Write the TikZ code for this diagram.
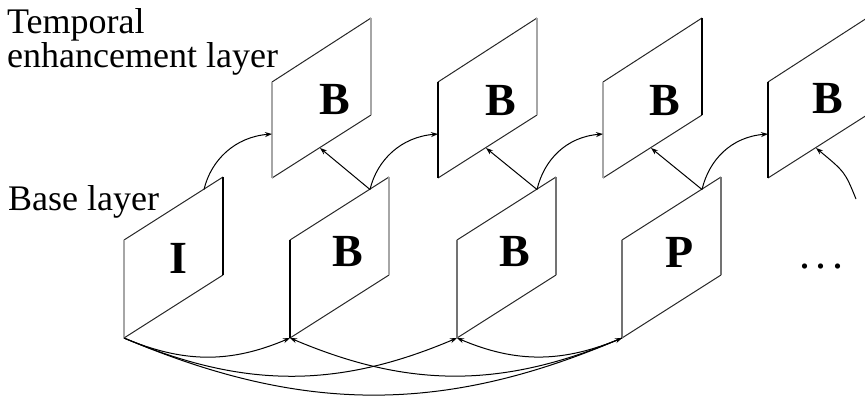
\documentclass[tikz,border=0pt]{standalone}
\usepackage{fontspec}
\setmainfont{Liberation Serif}
\usetikzlibrary{arrows.meta}
\begin{document}
\begin{tikzpicture}[x=1pt,y=1pt,
  slantedge/.style={line width=1pt, black!85},
  vblack/.style={line width=1.1pt, black},
  vgray/.style={line width=2pt, black!35},
  vmid/.style={line width=1.8pt, black!55},
  lbl/.style={font=\bfseries\fontsize{46}{46}\selectfont, inner sep=0pt},
  caption/.style={font=\fontsize{36}{34}\selectfont, inner sep=0pt, align=left},
  conn/.style={line width=1pt, -{Stealth[length=7pt,width=5pt]}}
]
\useasboundingbox (0,0) rectangle (865,-404);

% base layer frames
\foreach \n/\L/\lc/\rc in {bI/124/vgray/vblack, bB/290/vblack/vgray, bC/457/vmid/vmid, bP/622/vmid/vmid}{
  \coordinate (\n-bl) at (\L,-338);
  \coordinate (\n-tl) at (\L,-240);
  \coordinate (\n-tr) at (\L+99,-177);
  \coordinate (\n-br) at (\L+99,-275);
  \coordinate (\n-a) at (\L+80,-189.5);
  \draw[slantedge] (\n-bl) -- (\n-br) (\n-tl) -- (\n-tr);
  \draw[\lc] (\n-bl) -- (\n-tl);
  \draw[\rc] (\n-br) -- (\n-tr);
}

% temporal enhancement layer frames
\foreach \n/\T/\lc/\rc in {t1/272/vgray/vgray, t2/438/vblack/vgray, t3/603/vgray/vblack, t4/768/vblack/vgray}{
  \coordinate (\n-bl) at (\T,-178);
  \coordinate (\n-tl) at (\T,-82);
  \coordinate (\n-tr) at (\T+99,-18);
  \coordinate (\n-br) at (\T+99,-115);
  \coordinate (\n-l) at (\T,-134);
  \coordinate (\n-b) at (\T+48,-148);
  \draw[slantedge] (\n-bl) -- (\n-br) (\n-tl) -- (\n-tr);
  \draw[\lc] (\n-bl) -- (\n-tl);
  \draw[\rc] (\n-br) -- (\n-tr);
}

% frame labels
\node[lbl] (lI) at (178,-258) {I};
\node[lbl] (lB2) at (348,-252) {B};
\node[lbl] (lB3) at (515,-252) {B};
\node[lbl] (lP) at (680,-252) {P};
\node[lbl] (lT1) at (335,-100) {B};
\node[lbl] (lT2) at (501,-101) {B};
\node[lbl] (lT3) at (665,-101) {B};
\node[lbl] (lT4) at (828,-99) {B};
\node[font=\fontsize{44}{44}\selectfont, inner sep=0pt, anchor=base] (dots) at (821,-268) {.\hspace{5.5pt}.\hspace{5.5pt}.};

% captions
\node[caption, anchor=base west] (tcap) at (7,-67) {Temporal\\enhancement layer};
\node[caption, anchor=base west] (bcap) at (8,-210) {Base layer};

% base layer prediction arcs
\draw[conn] (bI-bl) to[bend right=23] (bB-bl);
\draw[conn] (bI-bl) to[bend right=23] (bC-bl);
\draw[conn] (bI-bl) to[bend right=23] (bP-bl);
\draw[conn] (bP-bl) to[bend left=23] (bC-bl);
\draw[conn] (bP-bl) to[bend left=23] (bB-bl);

% base to enhancement links
\draw[conn] (bI-a) .. controls +(7,29.5) and +(-37,-3) .. (t1-l);
\draw[conn] (bB-a) .. controls +(7,29.5) and +(-37,-3) .. (t2-l);
\draw[conn] (bC-a) .. controls +(7,29.5) and +(-37,-3) .. (t3-l);
\draw[conn] (bP-a) .. controls +(7,29.5) and +(-37,-3) .. (t4-l);
\draw[conn] (bB-a) -- (t1-b);
\draw[conn] (bC-a) -- (t2-b);
\draw[conn] (bP-a) -- (t3-b);
\coordinate (ghost) at (856,-199);
\draw[conn] (ghost) .. controls (845,-172) .. (t4-b);
\end{tikzpicture}
\end{document}
